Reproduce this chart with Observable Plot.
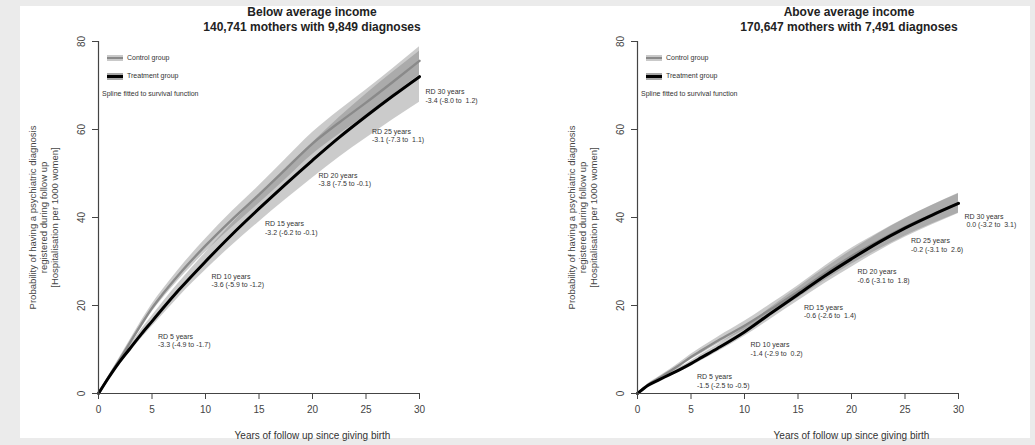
<!DOCTYPE html>
<html>
<head>
<meta charset="utf-8">
<script src="https://cdn.jsdelivr.net/npm/d3@7"></script>
<script src="https://cdn.jsdelivr.net/npm/@observablehq/plot@0.6"></script>
<style>
html,body{margin:0;padding:0;background:#ebebeb;width:1035px;height:445px;overflow:hidden;font-family:"Liberation Sans",Arial,sans-serif;}
#panel{position:absolute;left:20px;top:6px;width:1010px;height:432px;background:#fff;}
.chart{position:absolute;top:0;width:530px;height:445px;}
.chart svg text{white-space:pre;}
.title{position:absolute;font-weight:bold;font-size:12px;color:#222;text-align:center;line-height:15px;transform:translateX(-50%);white-space:nowrap;}
.leg{position:absolute;font-size:7px;color:#333;white-space:nowrap;line-height:8px;}
.sw{position:absolute;width:16px;}
.sw .band{position:absolute;left:0;width:16px;}
.sw .ln{position:absolute;left:0;width:16px;}
</style>
</head>
<body>
<div id="panel"></div>
<div id="left" class="chart" style="left:0px"></div>
<div id="right" class="chart" style="left:539px"></div>
<script>
// ---- data ----
const years = [0, 1, 2, 3, 4, 5, 6, 7.5, 10, 12.5, 15, 17.5, 20, 22.5, 25, 27.5, 30];

// Below average income
const belowTreatment   = [0, 3.8, 7.3, 10.4, 13.5, 16.4, 19.3, 23.5, 30.0, 36.2, 42.0, 47.6, 53.0, 58.2, 63.0, 67.6, 72.0];
const belowTreatmentLo = [0, 3.4, 6.7, 9.6, 12.5, 15.2, 17.9, 21.9, 28.0, 33.7, 39.0, 44.1, 49.0, 53.7, 58.0, 62.2, 66.2];
const belowTreatmentHi = [0, 4.2, 7.9, 11.2, 14.5, 17.6, 20.7, 25.1, 32.0, 38.7, 45.0, 51.1, 57.0, 62.7, 68.0, 73.0, 77.8];
const belowControl     = [0, 3.9, 7.8, 11.8, 15.7, 19.4, 22.6, 27.0, 33.6, 39.6, 45.2, 51.0, 56.8, 61.6, 66.1, 70.8, 75.6];
const belowControlLo   = [0, 3.6, 7.3, 11.2, 14.9, 18.5, 21.6, 25.8, 32.1, 37.8, 43.2, 48.7, 54.3, 58.9, 63.2, 67.8, 72.4];
const belowControlHi   = [0, 4.2, 8.3, 12.4, 16.5, 20.3, 23.6, 28.2, 35.1, 41.4, 47.2, 53.3, 59.3, 64.3, 69.0, 73.8, 78.8];

// Above average income
const aboveTreatment   = [0, 1.9, 3.1, 4.3, 5.5, 6.8, 8.2, 10.3, 14.0, 18.3, 22.5, 26.7, 30.6, 34.3, 37.6, 40.5, 43.2];
const aboveTreatmentLo = [0, 1.7, 2.8, 3.9, 5.0, 6.2, 7.5, 9.5, 13.0, 17.0, 21.0, 25.0, 28.7, 32.3, 35.5, 38.3, 40.9];
const aboveTreatmentHi = [0, 2.1, 3.4, 4.7, 6.0, 7.4, 8.9, 11.1, 15.0, 19.6, 24.0, 28.4, 32.5, 36.3, 39.7, 42.7, 45.5];
const aboveControl     = [0, 2.0, 3.5, 5.0, 6.6, 8.3, 9.8, 12.0, 15.4, 19.2, 23.1, 27.3, 31.2, 34.6, 37.8, 40.6, 43.2];
const aboveControlLo   = [0, 1.8, 3.2, 4.6, 6.1, 7.7, 9.1, 11.2, 14.4, 18.0, 21.7, 25.7, 29.4, 32.7, 35.8, 38.5, 41.0];
const aboveControlHi   = [0, 2.2, 3.8, 5.4, 7.1, 8.9, 10.5, 12.8, 16.4, 20.4, 24.5, 28.9, 33.0, 36.5, 39.8, 42.7, 45.4];

// Risk differences (RD) annotations
const rdYears   = [5, 10, 15, 20, 25, 30];
const belowRD   = [-3.3, -3.6, -3.2, -3.8, -3.1, -3.4];
const belowRDLo = [-4.9, -5.9, -6.2, -7.5, -7.3, -8.0];
const belowRDHi = [-1.7, -1.2, -0.1, -0.1, 1.1, 1.2];
const aboveRD   = [-1.5, -1.4, -0.6, -0.6, -0.2, 0.0];
const aboveRDLo = [-2.5, -2.9, -2.6, -3.1, -3.1, -3.2];
const aboveRDHi = [-0.5, 0.2, 1.4, 1.8, 2.6, 3.1];

// Axes / text
const xTicks = [0, 5, 10, 15, 20, 25, 30];
const yTicks = [0, 20, 40, 60, 80];
const xTitle = "Years of follow up since giving birth";
const yTitle = "Probability of having a psychiatric diagnosis\nregistered during follow up\n[Hospitalisation per 1000 women]";
const titles = {
  below: ["Below average income", "140,741 mothers with 9,849 diagnoses"],
  above: ["Above average income", "170,647 mothers with 7,491 diagnoses"]
};
const legendLabels = ["Control group", "Treatment group", "Spline fitted to survival function"];

// ---- drawing ----
const fmt = v => (v < 0 ? "" : " ") + v.toFixed(1);
const curve = "monotone-x";

function makePanel(treat, tLo, tHi, ctrl, cLo, cHi, rd, rdLo, rdHi, labelDy) {
  const rows = years.map((t, i) => ({t, tr: treat[i], tLo: tLo[i], tHi: tHi[i], c: ctrl[i], cLo: cLo[i], cHi: cHi[i]}));
  const labels = rdYears.map((t, i) => ({
    t,
    y: treat[years.indexOf(t)],
    text: `RD ${t} years\n${fmt(rd[i])} (${fmt(rdLo[i])} to ${fmt(rdHi[i])})`
  }));
  return Plot.plot({
    width: 530, height: 445,
    marginLeft: 98, marginRight: 4, marginTop: 41, marginBottom: 52,
    x: {domain: [0, 40], axis: null},
    y: {domain: [0, 80], axis: null},
    style: {background: "transparent", fontFamily: "Liberation Sans, Arial, sans-serif", color: "#333", overflow: "visible", maxWidth: "none"},
    marks: [
      Plot.areaY(rows, {x: "t", y1: "cLo", y2: "cHi", fill: "#777", fillOpacity: 0.38, curve}),
      Plot.areaY(rows, {x: "t", y1: "tLo", y2: "tHi", fill: "#777", fillOpacity: 0.38, curve}),
      Plot.line(rows, {x: "t", y: "c", stroke: "#8a8a8a", strokeWidth: 2.4, curve}),
      Plot.line(rows, {x: "t", y: "tr", stroke: "#000", strokeWidth: 3, curve}),
      Plot.ruleY([0], {x1: 0, x2: 30, stroke: "#444", strokeWidth: 1.2}),
      Plot.ruleX([0], {y1: 0, y2: 80, stroke: "#444", strokeWidth: 1.2}),
      Plot.axisX(xTicks, {tickSize: 6, tickPadding: 6, fontSize: 10, label: null, stroke: "#444", fill: "#444"}),
      Plot.axisY(yTicks, {tickSize: 6, tickPadding: 8, tickRotate: -90, fontSize: 10, label: null, stroke: "#444", fill: "#444"}),
      Plot.text(labels, {x: "t", y: "y", text: "text", dx: 6, dy: labelDy, textAnchor: "start", lineAnchor: "top", fontSize: 7, lineHeight: 1.25, fill: "#333"}),
      Plot.text([yTitle], {frameAnchor: "left", dx: -55, rotate: -90, textAnchor: "middle", lineAnchor: "middle", fontSize: 9.5, lineHeight: 1.12, fill: "#444"}),
      Plot.text([xTitle], {frameAnchor: "bottom", dy: 45, fontSize: 10, fill: "#333"})
    ]
  });
}

document.getElementById("left").append(
  makePanel(belowTreatment, belowTreatmentLo, belowTreatmentHi, belowControl, belowControlLo, belowControlHi, belowRD, belowRDLo, belowRDHi, 11)
);
document.getElementById("right").append(
  makePanel(aboveTreatment, aboveTreatmentLo, aboveTreatmentHi, aboveControl, aboveControlLo, aboveControlHi, aboveRD, aboveRDLo, aboveRDHi, 9)
);

function addOverlay(axisX, centerX, titleLines) {
  const t = document.createElement("div");
  t.className = "title";
  t.style.left = centerX + "px";
  t.style.top = "5px";
  t.innerHTML = titleLines.join("<br>");
  document.body.append(t);

  const swatches = [
    {y: 58, band: "#c9c9c9", bandH: 6, line: "#8a8a8a", lineH: 2},
    {y: 76, band: "#a8a8a8", bandH: 7, line: "#000", lineH: 3}
  ];
  swatches.forEach((s, i) => {
    const sw = document.createElement("div");
    sw.className = "sw";
    sw.style.left = (axisX + 9) + "px";
    sw.style.top = s.y + "px";
    sw.innerHTML = `<div class="band" style="top:${-s.bandH / 2}px;height:${s.bandH}px;background:${s.band}"></div>` +
                   `<div class="ln" style="top:${-s.lineH / 2}px;height:${s.lineH}px;background:${s.line}"></div>`;
    document.body.append(sw);
    const lab = document.createElement("div");
    lab.className = "leg";
    lab.style.left = (axisX + 29) + "px";
    lab.style.top = (s.y - 4) + "px";
    lab.textContent = legendLabels[i];
    document.body.append(lab);
  });
  const sp = document.createElement("div");
  sp.className = "leg";
  sp.style.left = (axisX + 4) + "px";
  sp.style.top = "90px";
  sp.textContent = legendLabels[2];
  document.body.append(sp);
}
addOverlay(98, 312, titles.below);
addOverlay(637, 849, titles.above);
</script>
</body>
</html>
